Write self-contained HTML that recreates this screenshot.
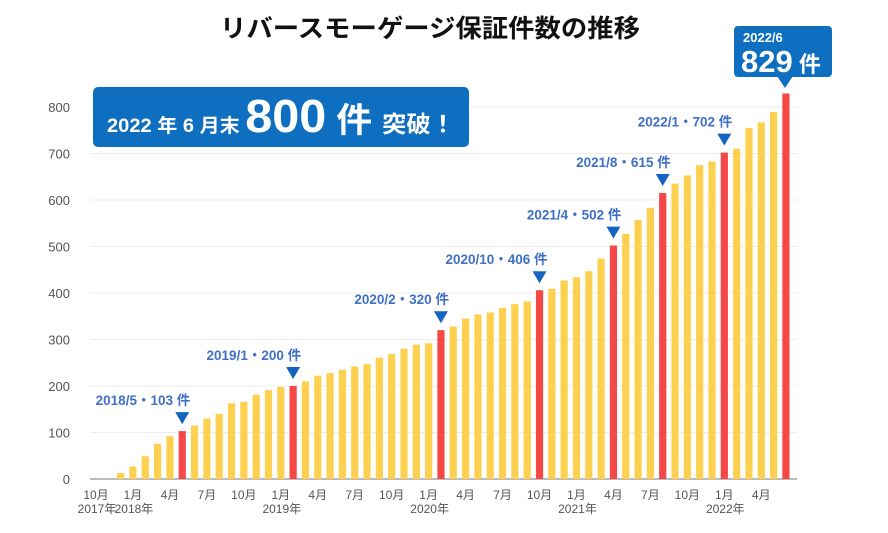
<!DOCTYPE html>
<html><head><meta charset="utf-8">
<style>
html,body{margin:0;padding:0;background:#fff;}
body{width:888px;height:533px;overflow:hidden;font-family:"Liberation Sans","Noto Sans CJK JP",sans-serif;}
svg{display:block;}
</style></head>
<body>
<svg id="chart" width="888" height="533" xmlns="http://www.w3.org/2000/svg" font-family="Liberation Sans, Noto Sans CJK JP, sans-serif">
<text x="430" y="37" text-anchor="middle" font-size="25" font-weight="bold" fill="#111" textLength="420" lengthAdjust="spacingAndGlyphs">リバースモーゲージ保証件数の推移</text>
<g id="grid"></g>
<g id="bars"></g>
<g id="ann"></g>
<g id="xlabels"></g>
<g>
<rect x="93" y="87" width="376" height="60" rx="5" fill="#0e6fc0"/>
<text x="281" y="132" text-anchor="middle" fill="#fff" font-weight="bold" textLength="348" lengthAdjust="spacingAndGlyphs"><tspan font-size="19">2022 年 6 月末 </tspan><tspan font-size="46">800</tspan><tspan font-size="34"> 件 </tspan><tspan font-size="23">突破！</tspan></text>
</g>
<g>
<rect x="734" y="26" width="98" height="51" rx="4" fill="#0e6fc0"/>
<polygon points="777,76 793,76 785,88" fill="#0e6fc0"/>
<text x="743" y="42" font-size="13" font-weight="bold" fill="#fff">2022/6</text>
<text x="741" y="72" fill="#fff" font-weight="bold"><tspan font-size="31">829</tspan><tspan font-size="22"> 件</tspan></text>
</g>
</svg>
<script>
const categories=["2017/10","2017/11","2017/12","2018/1","2018/2","2018/3","2018/4","2018/5","2018/6","2018/7","2018/8","2018/9","2018/10","2018/11","2018/12","2019/1","2019/2","2019/3","2019/4","2019/5","2019/6","2019/7","2019/8","2019/9","2019/10","2019/11","2019/12","2020/1","2020/2","2020/3","2020/4","2020/5","2020/6","2020/7","2020/8","2020/9","2020/10","2020/11","2020/12","2021/1","2021/2","2021/3","2021/4","2021/5","2021/6","2021/7","2021/8","2021/9","2021/10","2021/11","2021/12","2022/1","2022/2","2022/3","2022/4","2022/5","2022/6"];
const values=[0,0,13,27,49,76,92,103,115,130,140,163,166,181,191,198,200,210,222,228,235,242,247,261,269,280,289,292,320,328,345,354,358,368,376,382,406,409,427,434,447,474,502,527,557,583,615,635,653,675,683,702,710,755,767,789,829];
const highlightIdx=[7,16,28,36,42,46,51,56];
const annotations=["2018/5・103 件","2019/1・200 件","2020/2・320 件","2020/10・406 件","2021/4・502 件","2021/8・615 件","2022/1・702 件",""];
const yTicks=[0,100,200,300,400,500,600,700,800];
const xTickLabels=["10月","1月","4月","7月"];
const yearLabels=[[0,"2017年"],[3,"2018年"],[15,"2019年"],[27,"2020年"],[39,"2021年"],[51,"2022年"]];

const NS="http://www.w3.org/2000/svg";
const x0=96, step=12.32, yBase=479, yScale=372/800;
const xPos=i=>x0+i*step;
const yPos=v=>yBase-v*yScale;
function mk(tag,attrs,parent,txt){const e=document.createElementNS(NS,tag);for(const k in attrs)e.setAttribute(k,attrs[k]);if(txt!==undefined)e.textContent=txt;parent.appendChild(e);return e;}

const grid=document.getElementById('grid');
yTicks.forEach(t=>{
  if(t>0){const l=mk('line',{x1:90,x2:797,y1:yPos(t),y2:yPos(t),stroke:'#ececec','stroke-width':1},grid);
  
  }
  const tx=mk('text',{x:70,y:yPos(t)+5,'text-anchor':'end','font-size':13,fill:'#555'},grid,String(t));
  
  
});
const base=mk('line',{x1:90,x2:797,y1:yBase,y2:yBase,stroke:'#bbb','stroke-width':2},grid);



const bars=document.getElementById('bars');
values.forEach((v,i)=>{
  if(v<=0)return;
  const red=highlightIdx.includes(i);
  const r=mk('rect',{x:xPos(i)-3.6,y:yPos(v),width:7.2,height:yBase-yPos(v),fill:red?'#f64747':'#fdd14f'},bars);
  
  
});

const ann=document.getElementById('ann');
highlightIdx.forEach((idx,k)=>{
  if(!annotations[k])return;
  const bx=xPos(idx), top=yPos(values[idx]);
  const tri=mk('polygon',{points:`${bx-7},${top-19} ${bx+7},${top-19} ${bx},${top-7}`,fill:'#1565c0'},ann);
  
  
  const t=mk('text',{x:bx+8,y:top-26,'text-anchor':'end','font-size':13.5,'font-weight':'bold',fill:'#3f6fc6'},ann,annotations[k]);
  
  
});

const xl=document.getElementById('xlabels');
for(let i=0;i<values.length;i+=3){
  const t=mk('text',{x:xPos(i),y:499,'text-anchor':'middle','font-size':12,fill:'#555'},xl,xTickLabels[(i/3)%4]);
  
  
}
yearLabels.forEach(([i,s])=>{
  const t=mk('text',{x:xPos(i)+1,y:513,'text-anchor':'middle','font-size':12,fill:'#555'},xl,s);
  
  
});
</script>
</body></html>
